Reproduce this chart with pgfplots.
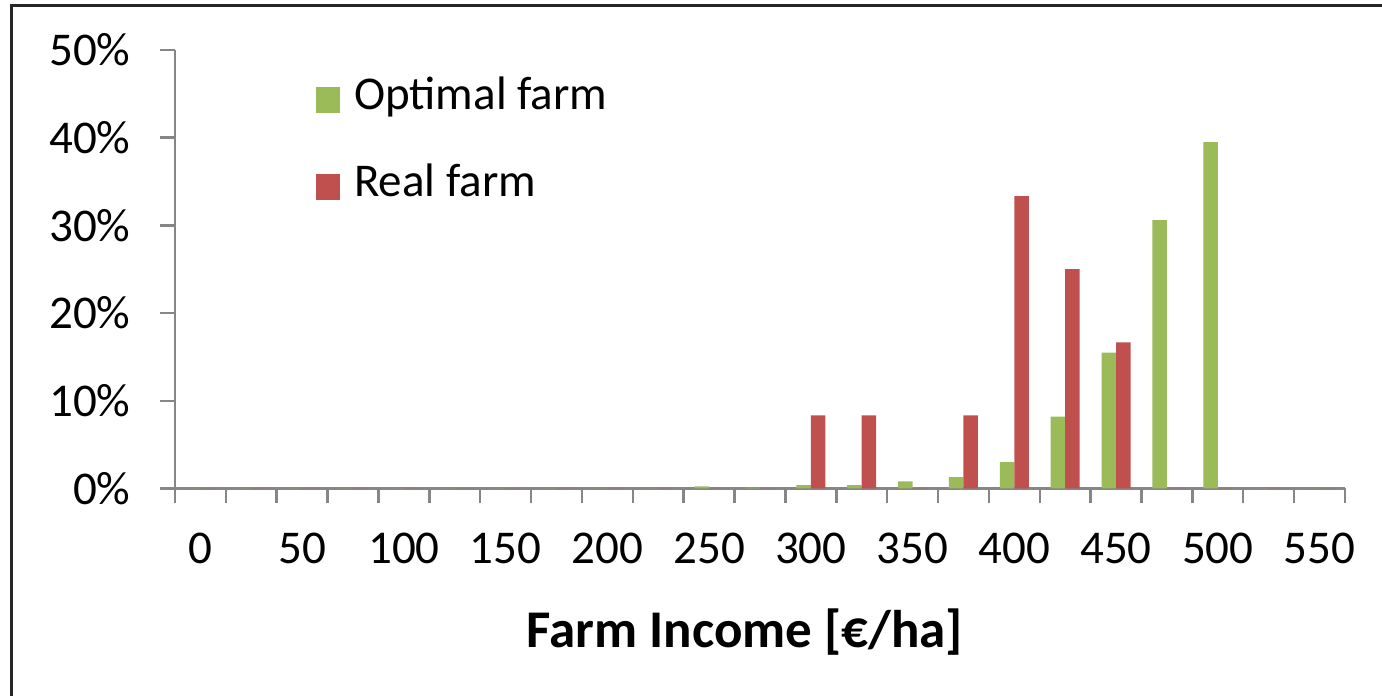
\documentclass[border=0pt]{standalone}
\usepackage{fontspec}
\setmainfont{Carlito}
\usepackage{pgfplots}
\usepackage{pgfplotstable}
\pgfplotsset{compat=1.18}
\definecolor{optgreen}{RGB}{155,187,89}
\definecolor{realred}{RGB}{192,80,77}
\definecolor{axisgray}{RGB}{134,134,134}

% income classes (25 EUR/ha wide), index 0..22 = 0..550; shares in percent
\pgfplotstableread{
idx optimal real
0   0     0
1   0     0
2   0     0
3   0     0
4   0     0
5   0     0
6   0     0
7   0     0
8   0     0
9   0     0
10  0.23  0
11  0.10  0
12  0.38  8.33
13  0.38  8.33
14  0.80  0
15  1.30  8.33
16  3.00  33.33
17  8.20  25.00
18  15.50 16.67
19  30.60 0
20  39.50 0
21  0     0
22  0     0
}\incometable

\begin{document}
\begin{tikzpicture}
\useasboundingbox (0pt,0pt) rectangle (1382pt,696pt);
% chart frame
\draw[line width=3pt, black!85] (11pt,-20pt) -- (11pt,690pt) -- (1400pt,690pt);
\begin{axis}[
  at={(175pt,207.5pt)}, anchor=south west,
  scale only axis, width=1170pt, height=438.5pt,
  xmin=-0.5, xmax=22.5, ymin=0, ymax=50,
  axis x line*=bottom, axis y line*=left,
  axis line style={axisgray, line width=2.5pt},
  tick align=outside,
  major tick length=15pt,
  tick style={axisgray, line width=2.5pt},
  /pgf/number format/assume math mode=true,
  tick label style={font=\fontsize{47}{56}\selectfont, black},
  ytick={0,10,...,50},
  yticklabel={\pgfmathprintnumber{\tick}\%},
  yticklabel style={xshift=-26pt},
  xtick={-0.5,0.5,...,22.5},
  xticklabels={},
  extra x ticks={0,2,...,22},
  extra x tick labels={0,50,100,150,200,250,300,350,400,450,500,550},
  extra x tick style={major tick length=0pt, tick label style={yshift=-41pt}},
  ybar=0pt, bar width=14.5pt,
  legend style={at={(0.1205,0.944)}, anchor=north west, draw=none, fill=none,
    inner sep=0pt, font=\fontsize{47}{56}\selectfont, row sep=49pt,
    nodes={inner xsep=0pt},
    /tikz/every odd column/.append style={column sep=14pt}},
  legend cell align=left,
  legend image code/.code={\fill[#1] (0pt,-19pt) rectangle (24pt,7pt);},
]
\addplot[fill=optgreen, draw=none] table[x=idx, y=optimal] {\incometable};
\addplot[fill=realred, draw=none] table[x=idx, y=real] {\incometable};
\legend{Optimal farm, Real farm}
\end{axis}
\node[font=\bfseries\fontsize{53}{64}\selectfont] at (745pt,64pt) {Farm Income [€/ha]};
\end{tikzpicture}
\end{document}
